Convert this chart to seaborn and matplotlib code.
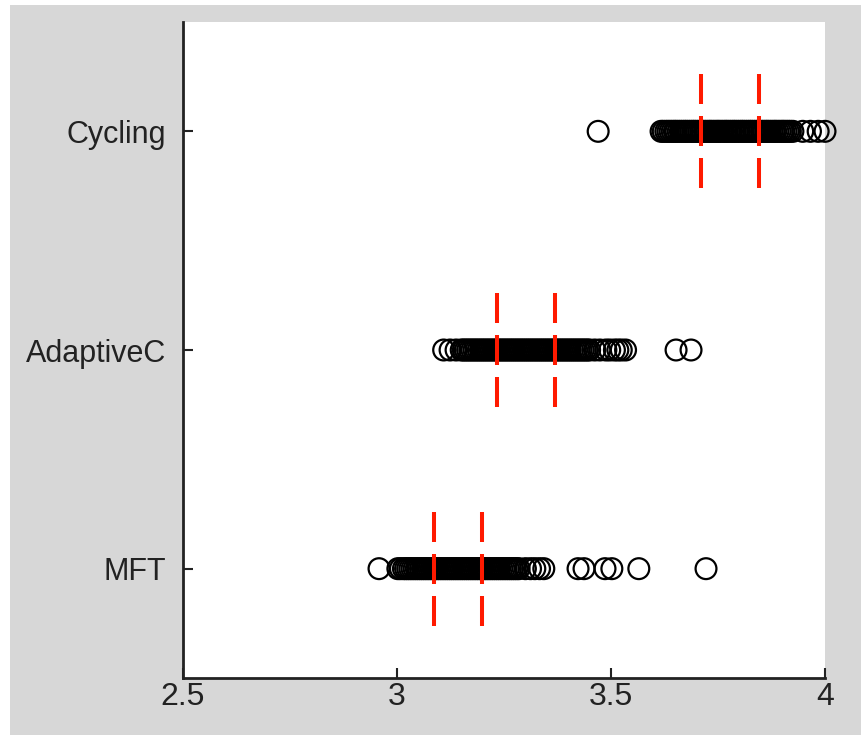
import numpy as np
import pandas as pd
import seaborn as sns
import matplotlib.pyplot as plt
from matplotlib.patches import Rectangle

# values (dense runs = overlapping circles)
methods = ["Cycling", "AdaptiveC", "MFT"]

cycling = [3.470, 3.617, 3.622, 3.628, 3.633, 3.638, 3.643, 3.648, 3.652,
           3.657, 3.662, 3.667, 3.672, 3.676, 3.681, 3.686, 3.691, 3.695,
           3.700, 3.705, 3.710, 3.714, 3.719, 3.724, 3.729, 3.733, 3.738,
           3.743, 3.748, 3.752, 3.757, 3.762, 3.767, 3.771, 3.776, 3.781,
           3.786, 3.790, 3.795, 3.800, 3.805, 3.809, 3.814, 3.819, 3.824,
           3.828, 3.833, 3.838, 3.843, 3.847, 3.852, 3.857, 3.862, 3.866,
           3.871, 3.876, 3.881, 3.885, 3.890, 3.895, 3.900, 3.904, 3.909,
           3.914, 3.919, 3.925, 3.948, 3.966, 3.984, 4.000]

adaptive = [3.109, 3.124, 3.138, 3.150, 3.155, 3.160, 3.165, 3.170, 3.175,
            3.180, 3.185, 3.190, 3.195, 3.200, 3.205, 3.210, 3.215, 3.220,
            3.225, 3.230, 3.235, 3.240, 3.245, 3.250, 3.255, 3.260, 3.265,
            3.270, 3.275, 3.280, 3.285, 3.290, 3.295, 3.300, 3.305, 3.310,
            3.315, 3.320, 3.325, 3.330, 3.335, 3.340, 3.345, 3.350, 3.355,
            3.360, 3.365, 3.370, 3.375, 3.380, 3.385, 3.390, 3.395, 3.400,
            3.405, 3.410, 3.415, 3.420, 3.425, 3.430, 3.435, 3.440, 3.445,
            3.450, 3.462, 3.474, 3.488, 3.497, 3.508, 3.516, 3.524, 3.534,
            3.652, 3.687]

mft = [2.958, 3.002, 3.008, 3.015, 3.020, 3.025, 3.030, 3.035, 3.040,
       3.045, 3.050, 3.055, 3.060, 3.065, 3.070, 3.075, 3.080, 3.085,
       3.090, 3.095, 3.100, 3.105, 3.110, 3.115, 3.120, 3.125, 3.130,
       3.135, 3.140, 3.145, 3.150, 3.155, 3.160, 3.165, 3.170, 3.175,
       3.180, 3.185, 3.190, 3.195, 3.200, 3.205, 3.210, 3.215, 3.220,
       3.225, 3.230, 3.235, 3.240, 3.245, 3.250, 3.255, 3.260, 3.265,
       3.270, 3.275, 3.280, 3.285, 3.300, 3.312, 3.322, 3.333, 3.343,
       3.423, 3.437, 3.486, 3.502, 3.565, 3.722]

# red dashed markers (lower / upper quartile)
q_low = [3.710, 3.234, 3.086]
q_high = [3.846, 3.369, 3.198]

xticks = [2.5, 3, 3.5, 4]
xticklabels = ["2.5", "3", "3.5", "4"]

df = pd.concat([
    pd.DataFrame({"value": cycling, "method": "Cycling"}),
    pd.DataFrame({"value": adaptive, "method": "AdaptiveC"}),
    pd.DataFrame({"value": mft, "method": "MFT"}),
])

sns.set_style("ticks")
plt.rcParams["font.family"] = ["Liberation Sans", "DejaVu Sans"]
plt.rcParams["lines.scale_dashes"] = False

fig = plt.figure(figsize=(8.62, 7.37), dpi=100, facecolor="white")
fig.patches.append(Rectangle((10 / 862, 2 / 737), 1, 730 / 737,
                             transform=fig.transFigure, facecolor="#d7d7d7",
                             edgecolor="none", zorder=-10))
ax = fig.add_axes([183 / 862, 59 / 737, 642 / 862, 656 / 737])
ax.set_facecolor("white")

sns.stripplot(data=df, x="value", y="method", order=methods, jitter=False,
              size=15, ax=ax, color="black")
for coll in ax.collections:
    coll.set_facecolor("none")
    coll.set_edgecolor("black")
    coll.set_linewidth(1.6)
    coll.set_clip_on(False)

for i in range(len(methods)):
    for q in (q_low[i], q_high[i]):
        ax.plot([q, q], [i - 0.26, i + 0.26], color="#ff1a00", lw=2.9,
                dashes=(21.6, 8.64), solid_capstyle="butt",
                dash_capstyle="butt", zorder=5)

ax.set_xlim(2.5, 4)
ax.set_ylim(2.5, -0.5)
ax.set_xticks(xticks)
ax.set_xticklabels(xticklabels)
ax.set_xlabel("")
ax.set_ylabel("")
sns.despine(ax=ax)
for side in ("left", "bottom"):
    ax.spines[side].set_linewidth(2)
    ax.spines[side].set_color("#222222")

ax.tick_params(axis="both", direction="in", length=7, width=1.5,
               colors="#222222", labelcolor="#222222")
ax.tick_params(axis="y", labelsize=22, pad=12)
ax.tick_params(axis="x", labelsize=23, pad=3)
for lbl in ax.get_xticklabels():
    lbl.set_family(["Liberation Sans Narrow", "Liberation Sans"])

plt.savefig("out.png", dpi=100, facecolor=fig.get_facecolor())
plt.close("all")
